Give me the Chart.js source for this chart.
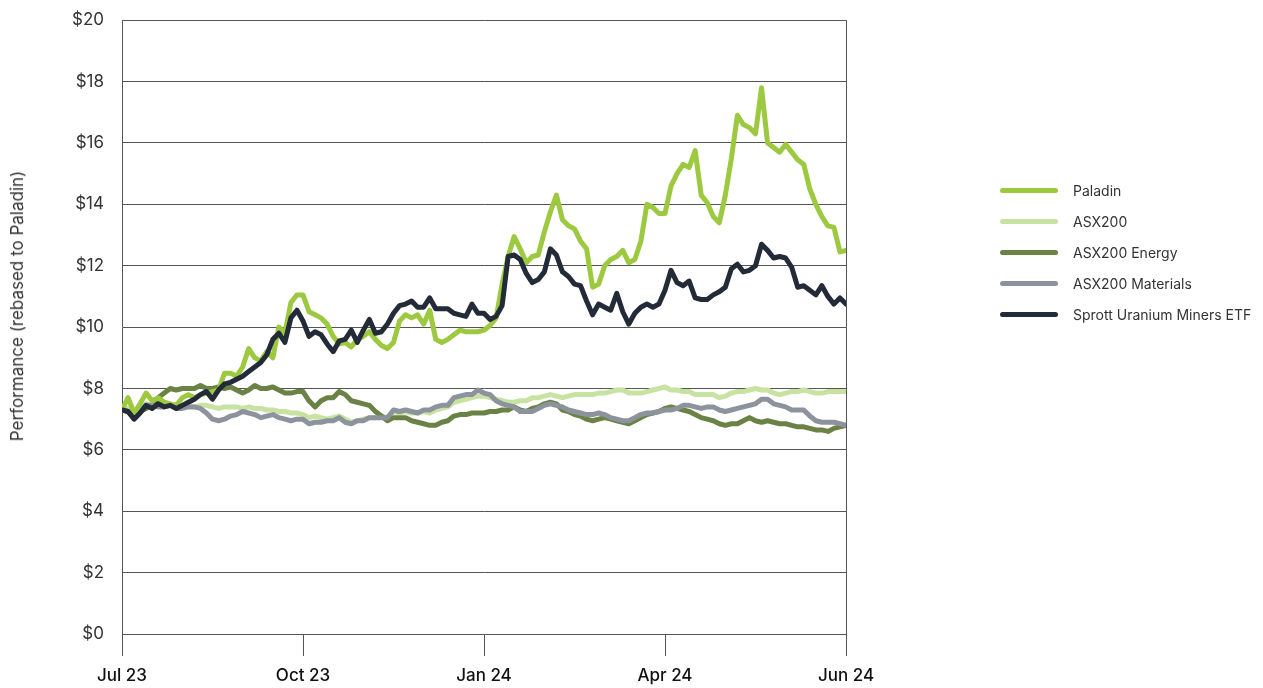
<!DOCTYPE html>
<html>
<head>
<meta charset="utf-8">
<script src="https://cdn.jsdelivr.net/npm/chart.js@4.4.1/dist/chart.umd.min.js"></script>
<style>
    html, body { margin: 0; padding: 0; background: #fff; overflow: hidden; }
    #wrap { position: relative; width: 1263px; height: 688px; overflow: hidden; font-family: Inter, "Noto Sans", sans-serif; }
    #perfChart { position: absolute; left: 0; top: -8px; }
    #yTitle {
        position: absolute; left: 17px; top: 306px;
        transform: translate(-50%, -50%) rotate(-90deg);
        white-space: nowrap; font-size: 17px; color: #333;
    }
    #legend { position: absolute; left: 1000px; top: 175px; }
    .item { display: flex; align-items: center; height: 31px; font-size: 14px; color: #333; white-space: nowrap; }
    .swatch { width: 58px; height: 5px; border-radius: 3px; margin-right: 15px; }
</style>
</head>
<body>
<div id="wrap">
    <canvas id="perfChart" width="1263" height="696"></canvas>
    <div id="yTitle">Performance (rebased to Paladin)</div>
    <div id="legend"></div>
</div>
<script>
// ticks on the time axis (120 steps from Jul 23 to end of Jun 24)
const tickLabels = ['Jul 23', 'Oct 23', 'Jan 24', 'Apr 24', 'Jun 24'];
const tickPositions = [0, 30, 60, 90, 120];

const paladin = [7.3,7.7,7.2,7.5,7.85,7.6,7.7,7.55,7.5,7.45,
    7.7,7.8,7.7,7.8,7.85,7.9,7.95,8.5,8.5,8.4,
    8.7,9.3,9.0,8.9,9.2,9.0,10.0,9.8,10.8,11.05,
    11.05,10.5,10.4,10.3,10.1,9.7,9.45,9.5,9.35,9.6,
    9.7,9.85,9.6,9.4,9.3,9.5,10.2,10.4,10.3,10.4,
    10.1,10.55,9.6,9.5,9.6,9.75,9.9,9.85,9.85,9.85,
    9.9,10.05,10.3,11.4,12.3,12.95,12.55,12.1,12.3,12.35,
    13.1,13.75,14.3,13.5,13.3,13.2,12.8,12.55,11.3,11.4,
    12.0,12.2,12.3,12.5,12.1,12.2,12.8,14.0,13.9,13.7,
    13.7,14.6,15.0,15.3,15.2,15.75,14.3,14.05,13.6,13.4,
    14.3,15.5,16.9,16.6,16.5,16.3,17.8,16.0,15.85,15.7,
    15.95,15.7,15.45,15.3,14.5,14.0,13.6,13.3,13.25,12.45,
    12.5];

const asx200 = [7.3,7.35,7.1,7.35,7.5,7.45,7.45,7.5,7.45,7.4,
    7.45,7.45,7.4,7.45,7.45,7.4,7.35,7.4,7.4,7.4,
    7.35,7.4,7.35,7.35,7.3,7.3,7.25,7.25,7.2,7.2,
    7.15,7.05,7.1,7.05,7.0,7.05,7.1,7.0,6.9,6.95,
    7.0,7.05,7.05,7.1,7.05,7.25,7.2,7.25,7.2,7.2,
    7.25,7.2,7.3,7.35,7.4,7.55,7.6,7.65,7.7,7.75,
    7.75,7.7,7.65,7.6,7.55,7.55,7.6,7.6,7.7,7.7,
    7.75,7.8,7.75,7.7,7.75,7.8,7.8,7.8,7.8,7.85,
    7.85,7.9,7.95,7.95,7.85,7.85,7.85,7.9,7.95,8.0,
    8.05,7.95,7.95,7.9,7.9,7.8,7.8,7.8,7.8,7.7,
    7.75,7.85,7.9,7.9,7.95,8.0,7.95,7.95,7.85,7.8,
    7.85,7.9,7.9,7.95,7.9,7.85,7.85,7.9,7.9,7.9,
    7.9];

const asxEnergy = [7.3,7.25,7.05,7.25,7.35,7.45,7.7,7.85,8.0,7.95,
    8.0,8.0,8.0,8.1,8.0,8.0,8.05,8.0,8.05,7.95,
    7.85,7.95,8.1,8.0,8.0,8.05,7.95,7.85,7.85,7.9,
    7.9,7.6,7.4,7.6,7.7,7.7,7.9,7.8,7.6,7.55,
    7.5,7.45,7.25,7.1,6.95,7.05,7.05,7.05,6.95,6.9,
    6.85,6.8,6.8,6.9,6.95,7.1,7.15,7.15,7.2,7.2,
    7.2,7.25,7.25,7.3,7.3,7.4,7.3,7.25,7.35,7.4,
    7.5,7.55,7.5,7.3,7.25,7.15,7.1,7.0,6.95,7.0,
    7.05,7.0,6.95,6.9,6.85,6.95,7.05,7.15,7.2,7.25,
    7.35,7.4,7.35,7.3,7.25,7.15,7.05,7.0,6.95,6.85,
    6.8,6.85,6.85,6.95,7.05,6.95,6.9,6.95,6.9,6.85,
    6.85,6.8,6.75,6.75,6.7,6.65,6.65,6.6,6.7,6.75,
    6.8];

const asxMaterials = [7.3,7.25,7.05,7.3,7.45,7.45,7.4,7.4,7.45,7.35,
    7.35,7.4,7.4,7.35,7.2,7.0,6.95,7.0,7.1,7.15,
    7.25,7.2,7.15,7.05,7.1,7.15,7.05,7.0,6.95,7.0,
    7.0,6.85,6.9,6.9,6.95,6.95,7.05,6.9,6.85,6.95,
    6.95,7.05,7.05,7.05,7.05,7.3,7.25,7.3,7.25,7.2,
    7.3,7.3,7.4,7.45,7.45,7.7,7.75,7.8,7.8,7.95,
    7.85,7.8,7.6,7.5,7.45,7.4,7.25,7.25,7.25,7.35,
    7.45,7.5,7.45,7.4,7.3,7.25,7.2,7.15,7.15,7.2,
    7.15,7.05,7.0,6.95,6.95,7.05,7.15,7.2,7.2,7.25,
    7.3,7.3,7.35,7.45,7.45,7.4,7.35,7.4,7.4,7.3,
    7.25,7.3,7.35,7.4,7.45,7.5,7.65,7.65,7.5,7.45,
    7.4,7.3,7.3,7.3,7.1,6.95,6.9,6.9,6.9,6.85,
    6.8];

const sprott = [7.3,7.25,7.0,7.2,7.45,7.35,7.5,7.4,7.45,7.35,
    7.45,7.55,7.65,7.8,7.9,7.65,7.95,8.15,8.2,8.3,
    8.4,8.55,8.7,8.85,9.1,9.6,9.8,9.5,10.3,10.55,
    10.2,9.7,9.85,9.75,9.45,9.2,9.55,9.6,9.9,9.5,
    9.9,10.25,9.8,9.85,10.1,10.45,10.7,10.75,10.85,10.65,
    10.65,10.95,10.6,10.6,10.6,10.45,10.4,10.35,10.75,10.45,
    10.45,10.25,10.35,10.7,12.3,12.35,12.2,11.75,11.45,11.55,
    11.8,12.55,12.35,11.8,11.65,11.4,11.35,10.85,10.4,10.75,
    10.65,10.55,11.1,10.5,10.1,10.45,10.65,10.75,10.65,10.75,
    11.2,11.85,11.45,11.35,11.5,10.95,10.9,10.9,11.05,11.15,
    11.3,11.9,12.05,11.8,11.85,12.0,12.7,12.5,12.25,12.3,
    12.25,11.95,11.3,11.35,11.2,11.05,11.35,11.0,10.75,10.95,
    10.75];

function toPoints(values) {
    return values.map(function (v, i) { return { x: i, y: v }; });
}

function lineSet(label, values, color, order) {
    return {
        label: label,
        data: toPoints(values),
        borderColor: color,
        backgroundColor: color,
        borderWidth: 5,
        pointRadius: 0,
        tension: 0,
        borderJoinStyle: 'round',
        borderCapStyle: 'round',
        order: order
    };
}

const gridColor = '#555';

document.addEventListener("DOMContentLoaded", function () {
    const ctx = document.getElementById('perfChart').getContext('2d');
    const chart = new Chart(ctx, {
        type: 'line',
        data: {
            datasets: [
                lineSet('Paladin', paladin, '#9cc93f', 1),
                lineSet('ASX200', asx200, '#c8e2a2', 4),
                lineSet('ASX200 Energy', asxEnergy, '#6a8246', 3),
                lineSet('ASX200 Materials', asxMaterials, '#8d939d', 2),
                lineSet('Sprott Uranium Miners ETF', sprott, '#232b38', 0)
            ]
        },
        options: {
            responsive: false,
            animation: false,
            devicePixelRatio: 1,
            layout: { padding: { left: 0, top: 12, right: 417, bottom: 0 } },
            plugins: {
                legend: { display: false },
                tooltip: { enabled: false }
            },
            scales: {
                x: {
                    type: 'linear',
                    min: 0,
                    max: 120,
                    afterBuildTicks: function (scale) {
                        scale.ticks = tickPositions.map(function (v) { return { value: v }; });
                    },
                    afterFit: function (scale) { scale.height = 54; },
                    ticks: {
                        autoSkip: false,
                        maxRotation: 0,
                        padding: 10,
                        color: '#111',
                        font: { family: 'Inter', size: 17, weight: '500' },
                        callback: function (value) {
                            const k = tickPositions.indexOf(value);
                            return k >= 0 ? tickLabels[k] : '';
                        }
                    },
                    grid: {
                        drawOnChartArea: true,
                        color: function (c) {
                            return (c.index === tickPositions.length - 1) ? gridColor : 'rgba(0,0,0,0)';
                        },
                        tickColor: gridColor,
                        tickLength: 22,
                        lineWidth: 1
                    },
                    border: { display: true, color: gridColor, width: 1 }
                },
                y: {
                    min: 0,
                    max: 20,
                    afterFit: function (scale) { scale.width = 122; },
                    ticks: {
                        stepSize: 2,
                        padding: 18,
                        color: '#333',
                        font: { family: 'Inter', size: 17 },
                        callback: function (value) { return '$' + value; }
                    },
                    grid: {
                        color: gridColor,
                        lineWidth: 1,
                        drawTicks: false
                    },
                    border: { display: true, color: gridColor, width: 1 }
                }
            }
        }
    });

    // legend in dataset order
    const legend = document.getElementById('legend');
    chart.data.datasets.forEach(function (ds) {
        const item = document.createElement('div');
        item.className = 'item';
        const sw = document.createElement('span');
        sw.className = 'swatch';
        sw.style.background = ds.borderColor;
        const txt = document.createElement('span');
        txt.textContent = ds.label;
        item.appendChild(sw);
        item.appendChild(txt);
        legend.appendChild(item);
    });
});
</script>
</body>
</html>
